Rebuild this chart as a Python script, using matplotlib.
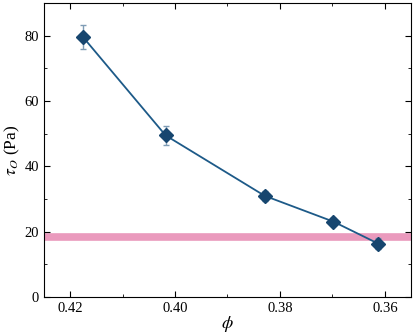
import matplotlib
matplotlib.use('Agg')
import matplotlib.pyplot as plt
from matplotlib.ticker import MultipleLocator

plt.rcParams['font.family'] = ['Liberation Serif', 'DejaVu Serif']
plt.rcParams['mathtext.fontset'] = 'stix'

# data
phi = [0.4175, 0.4018, 0.3829, 0.3698, 0.3613]
tau = [79.5, 49.5, 31.0, 23.1, 16.4]
tau_err = [3.7, 2.8, 1.5, 1.0, 1.7]
tau_ref = 18.5

fig = plt.figure(figsize=(4.14, 3.35), dpi=100)
ax = fig.add_axes([0.106, 0.113, 0.887, 0.878])

ax.axhline(tau_ref, color='#ea9abd', lw=5.5, zorder=1)
ax.errorbar(phi, tau, yerr=tau_err, fmt='none', ecolor='#7f9cb5',
            elinewidth=1, capsize=2.5, capthick=1, zorder=2)
ax.plot(phi, tau, '-', color='#1d5a88', lw=1.3, zorder=3)
ax.plot(phi, tau, 'D', color='#17466f', ms=7.5, zorder=4)

ax.set_xlim(0.425, 0.355)
ax.set_ylim(0, 90)
ax.xaxis.set_major_locator(MultipleLocator(0.02))
ax.xaxis.set_minor_locator(MultipleLocator(0.01))
ax.yaxis.set_major_locator(MultipleLocator(20))
ax.yaxis.set_minor_locator(MultipleLocator(10))
ax.xaxis.set_major_formatter(plt.FuncFormatter(lambda v, p: f'{v:.2f}'))
ax.tick_params(which='both', direction='in', top=True, right=True, labelsize=10.5)
ax.tick_params(which='major', length=4)
ax.tick_params(which='minor', length=2.5)

ax.set_xlabel(r'$\phi$', fontsize=13, labelpad=-1)
ax.set_ylabel(r'$\tau_O$ (Pa)', fontsize=12.5, labelpad=2)

fig.savefig('out.png', dpi=100)
